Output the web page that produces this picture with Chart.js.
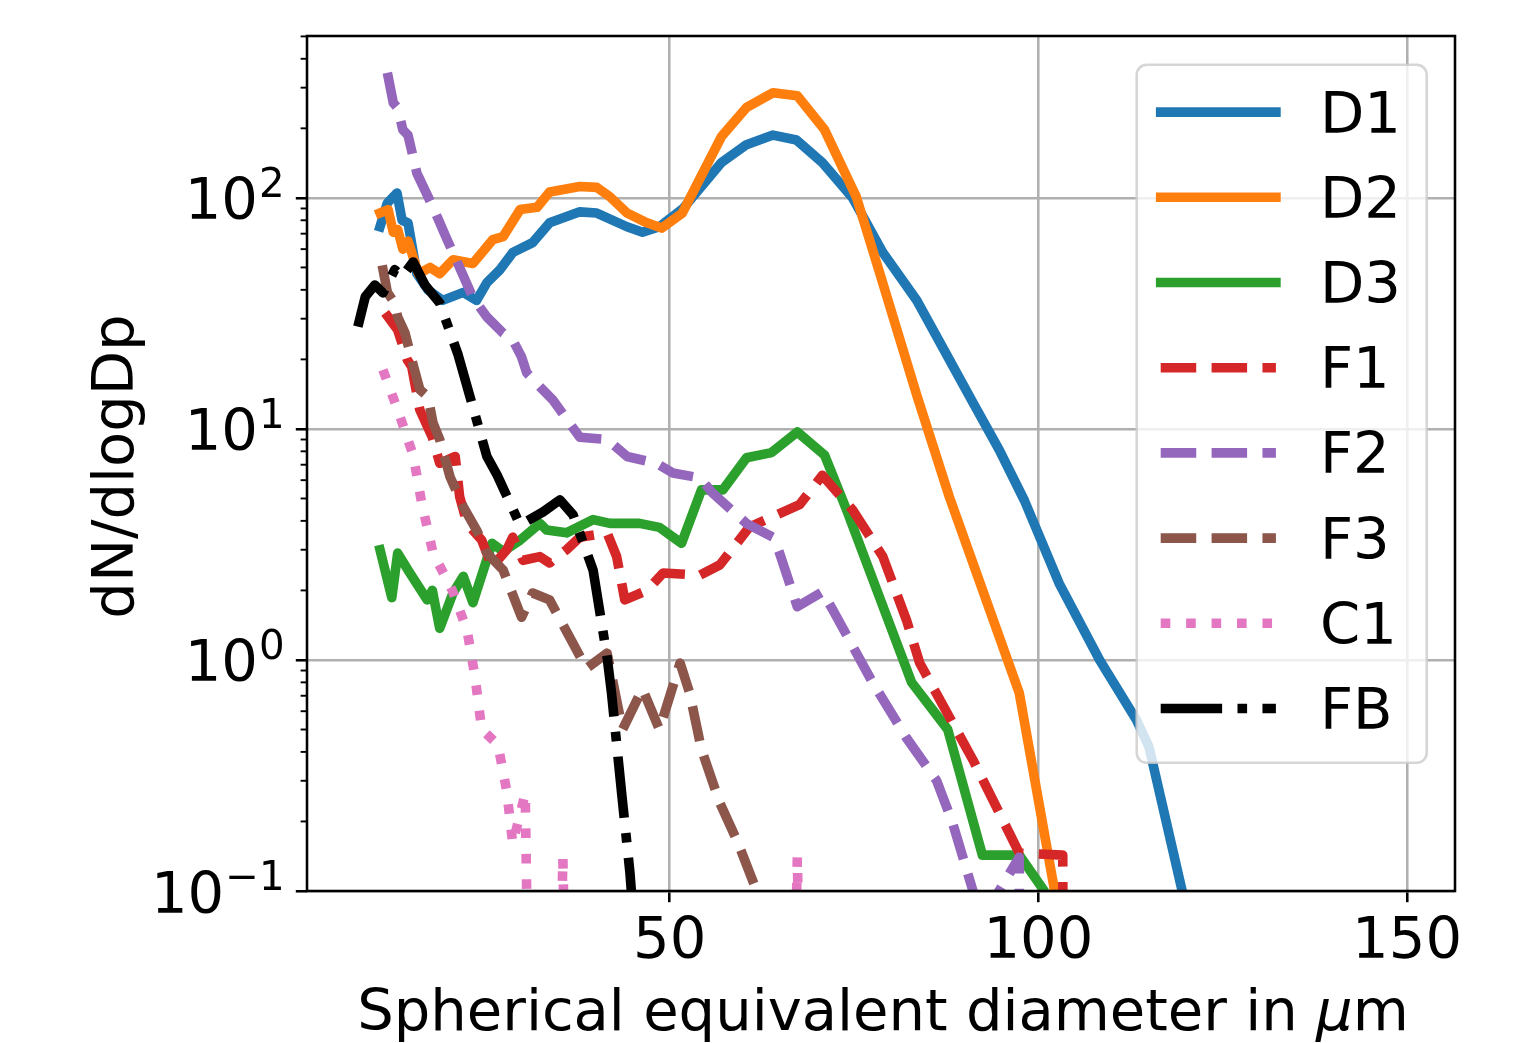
<!DOCTYPE html>
<html>
<head>
<meta charset="utf-8">
<script src="https://cdn.jsdelivr.net/npm/chart.js@4.4.0/dist/chart.umd.min.js"></script>
<style>
  html, body { margin: 0; padding: 0; background: #fff; }
  canvas { display: block; }
</style>
</head>
<body>
<canvas id="sizeChart" width="1537" height="1043"></canvas>
<script>
// series values (x in µm, y in dN/dlogDp)
const d1X = [10.7, 11.7, 13.0, 13.7, 14.5, 15.7, 17.2, 19.2, 22.0, 23.8, 25.2, 27.0, 28.7, 31.4, 33.7, 37.8, 40.1, 44.2, 46.3, 48.6, 51.8, 57.0, 60.4, 64.0, 67.2, 70.7, 74.8, 78.9, 83.5, 87.9, 91.3, 94.7, 98.1, 102.8, 108.3, 113.3, 115.0, 119.5, 124.0];
const d1Y = [75, 95, 105, 80, 78, 47, 40, 36, 39, 36, 43, 49, 58, 64, 78, 87, 86, 75, 71, 75, 90, 142, 170, 187, 178, 142, 100, 58, 36, 20, 12.7, 8.1, 4.9, 2.15, 1.0, 0.55, 0.42, 0.1, 0.045];

const d2X = [10.7, 11.8, 12.5, 13.1, 13.8, 14.5, 15.0, 15.9, 17.5, 18.8, 20.6, 23.3, 26.0, 27.4, 29.7, 32.0, 33.7, 37.8, 40.1, 41.9, 44.2, 46.9, 48.9, 51.7, 57.0, 60.4, 64.0, 67.3, 71.0, 75.3, 78.5, 83.5, 87.9, 97.4, 102.2, 104.5];
const d2Y = [86, 89, 71, 73, 60, 65, 58, 47, 50, 47, 54, 52, 66, 68, 89, 91, 106, 112, 111, 101, 86, 78, 74, 86, 184, 246, 285, 277, 197, 101, 47, 14, 5.1, 0.72, 0.1, 0.03];

const d3X = [10.7, 12.3, 13.1, 14.5, 17.1, 17.8, 18.8, 20.6, 22.0, 23.3, 25.9, 27.4, 29.7, 32.4, 33.3, 36.0, 39.6, 41.9, 45.9, 48.6, 51.6, 54.3, 57.2, 60.4, 63.8, 67.3, 71.0, 74.0, 82.8, 87.7, 92.4, 97.4, 100.8, 103.0];
const d3Y = [3.0, 1.86, 2.9, 2.45, 1.82, 2.0, 1.37, 1.95, 2.3, 1.77, 3.2, 2.95, 3.3, 3.9, 3.65, 3.55, 4.05, 3.9, 3.9, 3.75, 3.2, 5.45, 5.45, 7.5, 7.9, 9.7, 7.7, 4.45, 0.8, 0.5, 0.143, 0.143, 0.1, 0.06];

const f1X = [11.4, 13.1, 14.4, 15.0, 16.1, 17.8, 18.8, 20.9, 21.5, 22.5, 24.5, 25.9, 27.9, 28.7, 30.1, 32.4, 33.7, 36.0, 37.8, 41.5, 42.8, 43.9, 46.9, 49.1, 54.1, 56.8, 60.8, 67.6, 70.7, 74.8, 78.9, 82.1, 83.9, 91.1, 97.4, 103.3, 103.5];
const f1Y = [31.8, 26.8, 19.9, 18.6, 12.1, 9.2, 7.1, 7.6, 5.1, 3.9, 3.3, 2.53, 3.0, 3.4, 2.7, 2.8, 2.63, 3.0, 3.4, 3.55, 2.8, 1.82, 2.0, 2.38, 2.33, 2.58, 3.76, 4.7, 6.3, 4.46, 2.8, 1.49, 0.97, 0.37, 0.146, 0.143, 0.001];

const f2X = [11.7, 12.5, 13.1, 13.8, 14.5, 15.7, 17.9, 19.8, 21.5, 23.3, 25.2, 27.4, 28.7, 29.9, 30.6, 32.4, 34.1, 37.8, 41.5, 44.2, 48.2, 50.4, 54.1, 55.8, 60.4, 64.0, 64.9, 67.3, 70.7, 72.1, 77.5, 82.1, 86.2, 88.3, 92.3, 97.4, 97.7];
const f2Y = [348, 258, 245, 197, 187, 128, 91, 66, 50, 37, 30.5, 26, 24.3, 20.5, 17.5, 15.2, 13.4, 9.2, 9.0, 7.6, 7.1, 6.45, 6.14, 5.28, 3.9, 3.4, 2.9, 1.7, 1.97, 1.65, 0.8, 0.46, 0.3, 0.2, 0.075, 0.14, 0.001];

const f3X = [11.0, 11.7, 12.7, 13.1, 14.1, 15.0, 16.1, 17.2, 17.9, 18.8, 20.2, 22.0, 23.8, 25.2, 27.4, 29.9, 31.4, 33.7, 38.7, 41.5, 43.6, 46.3, 48.6, 51.4, 52.7, 54.3, 56.8, 59.1, 61.8, 63.0];
const f3Y = [51, 39, 35, 30.5, 26, 20, 14.8, 13.8, 10.6, 9.0, 6.2, 4.6, 3.65, 2.9, 2.45, 1.53, 1.95, 1.82, 0.92, 1.07, 0.5, 0.75, 0.5, 0.97, 0.72, 0.41, 0.24, 0.166, 0.1, 0.07];

const c1X = [11.1, 13.1, 15.2, 16.4, 17.9, 20.5, 22.5, 23.6, 24.5, 26.7, 27.9, 28.7, 30.4, 31.5, 34.3, 35.5, 36.8, 66.0, 67.3, 68.6];
const c1Y = [18, 12.1, 7.7, 4.7, 2.9, 2.0, 1.35, 0.84, 0.5, 0.43, 0.27, 0.16, 0.265, 0.001, 0.001, 0.14, 0.001, 0.001, 0.14, 0.001];

const fbX = [7.7, 8.7, 10.0, 11.1, 11.8, 12.7, 13.7, 15.2, 16.8, 18.8, 21.3, 25.2, 26.6, 29.7, 32.8, 35.1, 36.9, 39.6, 41.5, 42.1, 43.5, 44.6, 45.5];
const fbY = [27.7, 37.3, 42, 38.8, 42.9, 48.9, 45.5, 52.8, 42, 35.1, 20.9, 7.6, 6.3, 3.84, 4.37, 4.93, 4.24, 2.45, 1.03, 0.72, 0.26, 0.12, 0.05];

// axes
const xTickValues = [50, 100, 150];
const xTickLabels = ['50', '100', '150'];
const yTickValues = [0.1, 1, 10, 100];
const yTickExps = ['\u22121', '0', '1', '2'];
const yMinorTicks = [0.2, 0.3, 0.4, 0.5, 0.6, 0.7, 0.8, 0.9, 2, 3, 4, 5, 6, 7, 8, 9, 20, 30, 40, 50, 60, 70, 80, 90, 200, 300, 400, 500];
const xLabel = 'Spherical equivalent diameter in ';
const yLabel = 'dN/dlogDp';

const FONT = '"DejaVu Sans", sans-serif';
const FS = 57.6;      // 18pt at this scale
const LW = 9.6;       // line width
const dashed = [3.7 * LW, 1.6 * LW];
const dashdot = [6.4 * LW, 1.6 * LW, 1 * LW, 1.6 * LW];
const dotted = [1 * LW, 1.65 * LW];

const series = [
  ['D1', d1X, d1Y, '#1f77b4', []],
  ['D2', d2X, d2Y, '#ff7f0e', []],
  ['D3', d3X, d3Y, '#2ca02c', []],
  ['F1', f1X, f1Y, '#d62728', dashed],
  ['F2', f2X, f2Y, '#9467bd', dashed],
  ['F3', f3X, f3Y, '#8c564b', dashed],
  ['C1', c1X, c1Y, '#e377c2', dotted],
  ['FB', fbX, fbY, '#000000', dashdot]
];

const datasets = series.map(([label, xs, ys, color, dash], i) => ({
  label: label,
  data: xs.map((x, k) => ({ x: x, y: ys[k] })),
  borderColor: color,
  borderWidth: LW,
  borderDash: dash,
  borderCapStyle: dash.length ? 'butt' : 'square',
  borderJoinStyle: 'round',
  pointRadius: 0,
  tension: 0,
  fill: false,
  order: series.length - i   // later series on top, like matplotlib
}));

function roundRect(ctx, l, t, r, b, rad) {
  ctx.beginPath();
  ctx.moveTo(l + rad, t);
  ctx.arcTo(r, t, r, b, rad);
  ctx.arcTo(r, b, l, b, rad);
  ctx.arcTo(l, b, l, t, rad);
  ctx.arcTo(l, t, r, t, rad);
  ctx.closePath();
}

const decorations = {
  id: 'decorations',
  afterDatasetsDraw(chart) {
    const { ctx, chartArea: a, scales: { x, y } } = chart;
    ctx.save();

    // frame
    ctx.strokeStyle = '#000';
    ctx.lineWidth = 2.56;
    ctx.setLineDash([]);
    ctx.strokeRect(a.left, a.top, a.right - a.left, a.bottom - a.top);

    // minor ticks on the log axis
    ctx.lineWidth = 1.92;
    yMinorTicks.forEach(v => {
      const py = y.getPixelForValue(v);
      ctx.beginPath();
      ctx.moveTo(a.left - 6.4, py);
      ctx.lineTo(a.left, py);
      ctx.stroke();
    });

    ctx.fillStyle = '#000';

    // y tick labels 10^n
    const baseFont = FS + 'px ' + FONT;
    const expFont = (FS * 0.7) + 'px ' + FONT;
    ctx.textBaseline = 'alphabetic';
    ctx.textAlign = 'left';
    yTickValues.forEach((v, i) => {
      const py = y.getPixelForValue(v);
      ctx.font = baseFont;
      const wb = ctx.measureText('10').width;
      ctx.font = expFont;
      const we = ctx.measureText(yTickExps[i]).width;
      const right = a.left - 22.4;
      const x0 = right - wb - we - 1;
      ctx.font = baseFont;
      ctx.fillText('10', x0, py + 21.5);
      ctx.font = expFont;
      ctx.fillText(yTickExps[i], x0 + wb + 1, py + 21.5 - 22.5);
    });

    // x tick labels
    ctx.font = baseFont;
    ctx.textAlign = 'center';
    xTickValues.forEach((v, i) => {
      ctx.fillText(xTickLabels[i], x.getPixelForValue(v), a.bottom + 67);
    });

    // x axis title with italic mu
    const italic = 'oblique ' + FS + 'px ' + FONT;
    ctx.font = baseFont;
    const w1 = ctx.measureText(xLabel).width;
    const w3 = ctx.measureText('m').width;
    ctx.font = italic;
    const w2 = ctx.measureText('\u03bc').width;
    let tx = (a.left + a.right) / 2 + 2 - (w1 + w2 + w3) / 2;
    const ty = a.bottom + 139;
    ctx.textAlign = 'left';
    ctx.font = baseFont;
    ctx.fillText(xLabel, tx, ty);
    ctx.font = italic;
    ctx.fillText('\u03bc', tx + w1, ty);
    ctx.font = baseFont;
    ctx.fillText('m', tx + w1 + w2, ty);

    // y axis title
    ctx.save();
    ctx.translate(132.5, (a.top + a.bottom) / 2 + 3);
    ctx.rotate(-Math.PI / 2);
    ctx.textAlign = 'center';
    ctx.fillText(yLabel, 0, 0);
    ctx.restore();

    // legend, upper right inside the axes
    const pad = FS * 0.5;
    const lgRight = a.right - pad + 0.5;
    const lgLeft = lgRight - 290;
    const lgTop = a.top + pad;
    const lgBottom = lgTop + 698;
    roundRect(ctx, lgLeft, lgTop, lgRight, lgBottom, 10);
    ctx.fillStyle = 'rgba(255,255,255,0.8)';
    ctx.fill();
    ctx.strokeStyle = 'rgba(204,204,204,0.8)';
    ctx.lineWidth = 2.56;
    ctx.stroke();

    chart.data.datasets.forEach((ds, i) => {
      const ry = lgTop + 47.3 + i * 85.2;
      const hx0 = lgLeft + 24;
      const hx1 = hx0 + 2 * FS;
      ctx.beginPath();
      ctx.strokeStyle = ds.borderColor;
      ctx.lineWidth = ds.borderWidth;
      ctx.lineCap = ds.borderCapStyle;
      ctx.setLineDash(ds.borderDash);
      ctx.moveTo(hx0, ry);
      ctx.lineTo(hx1, ry);
      ctx.stroke();
      ctx.setLineDash([]);
      ctx.fillStyle = '#000';
      ctx.font = baseFont;
      ctx.textAlign = 'left';
      ctx.fillText(ds.label, hx1 + 0.8 * FS - 2, ry + 20.5);
    });

    ctx.restore();
  }
};

new Chart(document.getElementById('sizeChart'), {
  type: 'line',
  data: { datasets: datasets },
  options: {
    responsive: false,
    animation: false,
    devicePixelRatio: 1,
    layout: { padding: { left: 0, top: 36, right: 82, bottom: 0 } },
    plugins: { legend: { display: false }, tooltip: { enabled: false } },
    scales: {
      x: {
        type: 'linear',
        bounds: 'data',
        min: 0.8,
        max: 156.5,
        afterBuildTicks: s => { s.ticks = xTickValues.map(v => ({ value: v })); },
        afterFit: s => { s.height = 152; },
        ticks: { display: false },
        grid: { color: '#b0b0b0', lineWidth: 2.56, drawTicks: true, tickLength: 11.2, tickWidth: 2.56, tickColor: '#000' },
        border: { display: false }
      },
      y: {
        type: 'logarithmic',
        bounds: 'data',
        min: 0.1,
        max: 502,
        afterBuildTicks: s => { s.ticks = yTickValues.map(v => ({ value: v, major: true })); },
        afterFit: s => { s.width = 307; },
        ticks: { display: false },
        grid: { color: '#b0b0b0', lineWidth: 2.56, drawTicks: true, tickLength: 11.2, tickWidth: 2.56, tickColor: '#000' },
        border: { display: false }
      }
    }
  },
  plugins: [decorations]
});
</script>
</body>
</html>
